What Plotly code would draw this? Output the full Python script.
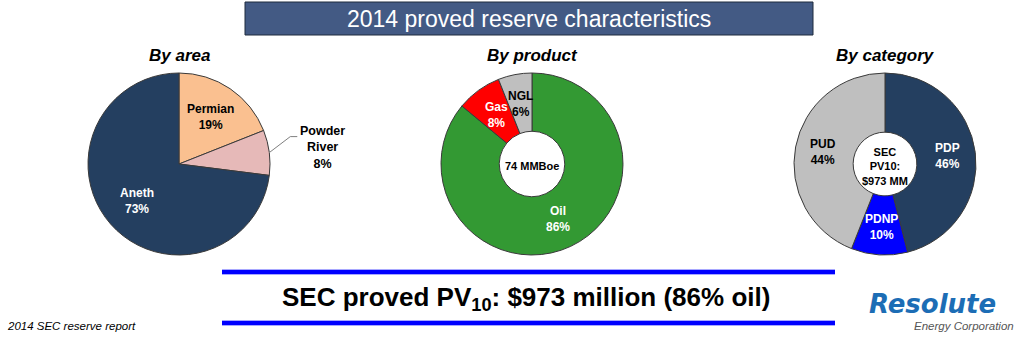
import math
import plotly.graph_objects as go

W, H = 1024, 338

# ---- data ----
area_labels = ["Permian", "Powder River", "Aneth"]
area_values = [19, 8, 73]
product_labels = ["Oil", "Gas", "NGL"]
product_values = [86, 8, 6]
category_labels = ["PDP", "PDNP", "PUD"]
category_values = [46, 10, 44]
panel_titles = ["By area", "By product", "By category"]
center_texts = ["", "74 MMBoe", "SEC<br>PV10:<br>$973 MM"]
main_title = "2014 proved reserve characteristics"
bottom_text = "SEC proved PV<sub>10</sub>: $973 million (86% oil)"
source_text = "2014 SEC reserve report"

# ---- style ----
FONT = "Liberation Sans, Arial, Helvetica, sans-serif"
area_colors = ["#FAC090", "#E6B9B8", "#243F60"]
product_colors = ["#339933", "#FF0000", "#BFBFBF"]
category_colors = ["#243F60", "#0000FF", "#BFBFBF"]
area_text_colors = ["black", "black", "white"]
product_text_colors = ["white", "white", "black"]
category_text_colors = ["white", "white", "black"]

pies = [
    dict(labels=area_labels, values=area_values, colors=area_colors,
         tcolors=area_text_colors, cx=179, hole=0.0, f=0.62,
         outside=[False, True, False]),
    dict(labels=product_labels, values=product_values, colors=product_colors,
         tcolors=product_text_colors, cx=532, hole=0.36, f=0.67,
         outside=[False, False, False]),
    dict(labels=category_labels, values=category_values, colors=category_colors,
         tcolors=category_text_colors, cx=885, hole=0.35, f=0.69,
         outside=[False, False, False]),
]
CY, R = 164, 91
LABEL_SIZE = 12


def px(x):
    return x / W


def py(y):
    return 1 - y / H


fig = go.Figure()
annotations = []
shapes = []

for k, p in enumerate(pies):
    cx = p["cx"]
    fig.add_trace(go.Pie(
        labels=p["labels"], values=p["values"], sort=False,
        direction="clockwise", rotation=0, hole=p["hole"],
        marker=dict(colors=p["colors"], line=dict(color="#3a3a3a", width=1)),
        textinfo="none", hoverinfo="label+percent", showlegend=False,
        domain=dict(x=[px(cx - R), px(cx + R)], y=[py(CY + R), py(CY - R)]),
    ))
    total = sum(p["values"])
    cum = 0
    for i, (lab, v) in enumerate(zip(p["labels"], p["values"])):
        mid = math.radians((cum + v / 2) / total * 360)
        cum += v
        pct = f"{round(100 * v / total)}%"
        s, c = math.sin(mid), math.cos(mid)
        if p["outside"][i]:
            ex, ey = cx + R * s, CY - R * c
            elx, ely = ex + 21, ey - 16
            tx = elx + 7
            shapes.append(dict(type="path", xref="paper", yref="paper",
                               path=f"M {px(ex)} {py(ey)} L {px(elx)} {py(ely)} L {px(tx)} {py(ely)}",
                               line=dict(color="#7f7f7f", width=1)))
            annotations.append(dict(
                x=px(tx + 1), y=py(ely + 11), xref="paper", yref="paper",
                xanchor="left", yanchor="middle", showarrow=False, align="center",
                text=f"<b>{lab.replace(' ', '<br>')}<br>{pct}</b>",
                font=dict(family=FONT, size=12.5, color="black")))
        else:
            fr = p["f"]
            annotations.append(dict(
                x=px(cx + fr * R * s), y=py(CY - fr * R * c), xref="paper", yref="paper",
                xanchor="center", yanchor="middle", showarrow=False, align="center",
                text=f"<b>{lab}<br>{pct}</b>",
                font=dict(family=FONT, size=LABEL_SIZE, color=p["tcolors"][i])))
    if center_texts[k]:
        annotations.append(dict(
            x=px(cx), y=py(CY + 2), xref="paper", yref="paper", showarrow=False,
            xanchor="center", yanchor="middle", align="center",
            text=f"<b>{center_texts[k]}</b>",
            font=dict(family=FONT, size=11, color="black")))
    annotations.append(dict(
        x=px(cx), y=py(55), xref="paper", yref="paper", showarrow=False,
        xanchor="center", yanchor="middle",
        text=f"<b><i>{panel_titles[k]}</i></b>",
        font=dict(family=FONT, size=17, color="black")))

# title box
shapes.append(dict(type="rect", xref="paper", yref="paper",
                   x0=px(245), x1=px(813), y0=py(35), y1=py(2),
                   fillcolor="#435A84", line=dict(color="#1F2A3C", width=1)))
annotations.append(dict(x=px(529), y=py(19), xref="paper", yref="paper",
                        showarrow=False, xanchor="center", yanchor="middle",
                        text=main_title,
                        font=dict(family=FONT, size=23, color="white")))

# bottom lines
for yy in (272, 323):
    shapes.append(dict(type="line", xref="paper", yref="paper",
                       x0=px(222), x1=px(835), y0=py(yy), y1=py(yy),
                       line=dict(color="#A8A8FF", width=6)))
    shapes.append(dict(type="line", xref="paper", yref="paper",
                       x0=px(222), x1=px(835), y0=py(yy), y1=py(yy),
                       line=dict(color="#0000FF", width=4)))

annotations.append(dict(x=px(526), y=py(298), xref="paper", yref="paper",
                        showarrow=False, xanchor="center", yanchor="middle",
                        text=f"<b>{bottom_text}</b>",
                        font=dict(family=FONT, size=26, color="black")))

annotations.append(dict(x=px(5), y=py(326), xref="paper", yref="paper",
                        showarrow=False, xanchor="left", yanchor="middle",
                        text=f"<i>{source_text}</i>",
                        font=dict(family=FONT, size=11.5, color="black")))

# logo
annotations.append(dict(x=px(998), y=py(304), xref="paper", yref="paper",
                        showarrow=False, xanchor="right", yanchor="middle",
                        text="<b><i>Resolute</i></b>",
                        font=dict(family="DejaVu Sans, Liberation Sans, sans-serif", size=26, color="#1C6DB5")))
annotations.append(dict(x=px(1016), y=py(326), xref="paper", yref="paper",
                        showarrow=False, xanchor="right", yanchor="middle",
                        text="<i>Energy Corporation</i>",
                        font=dict(family=FONT, size=11.5, color="#555555")))

fig.update_layout(
    width=W, height=H, margin=dict(l=0, r=0, t=0, b=0, pad=0),
    paper_bgcolor="white", plot_bgcolor="white",
    shapes=shapes, annotations=annotations,
)

fig.write_html("out.html")
